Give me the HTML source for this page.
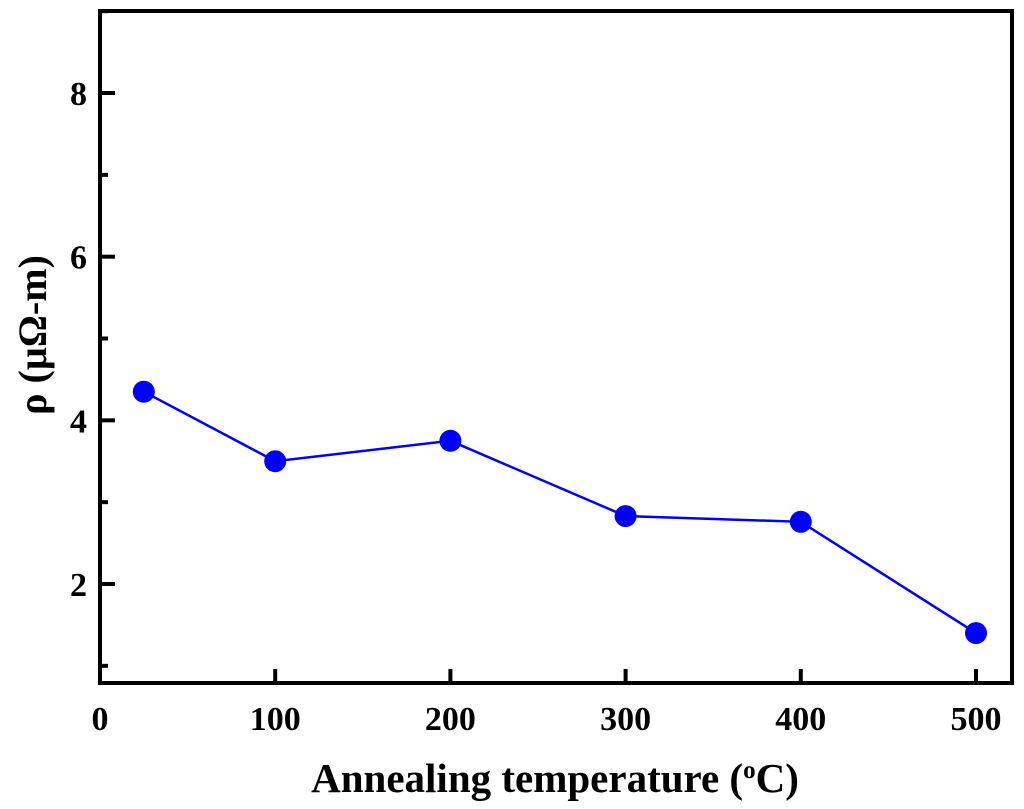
<!DOCTYPE html>
<html><head><meta charset="utf-8"><style>
html,body{margin:0;padding:0;background:#fff;}
svg{display:block;}
text{font-family:"Liberation Serif",serif;font-weight:bold;fill:#000;}
</style></head><body>
<svg width="1024" height="809" xmlns="http://www.w3.org/2000/svg">
<g id="plot"></g>
</svg>
<script>
const temps=[25,100,200,300,400,500];
const rho=[4.35,3.50,3.75,2.83,2.76,1.40];
const xTicks=[0,100,200,300,400,500];
const yTicks=[2,4,6,8];
const yMinor=[1,3,5,7,9];

const L=100,R=1012,T=11,B=683;
const X=v=>100+v*1.752;
const Y=v=>584-(v-2)*81.83;
const ns="http://www.w3.org/2000/svg";
const g=document.getElementById('plot');
function mk(tag,attrs){const e=document.createElementNS(ns,tag);for(const k in attrs)e.setAttribute(k,attrs[k]);g.appendChild(e);return e;}

const frame=mk('rect',{x:L,y:T,width:R-L,height:B-T,fill:'none',stroke:'#000','stroke-width':4});



xTicks.forEach(v=>{
  const t=mk('line',{x1:X(v),x2:X(v),y1:B,y2:B-14,stroke:'#000','stroke-width':4});
  
  
  const l=mk('text',{x:X(v),y:730,'text-anchor':'middle','font-size':34});
  l.textContent=v;
  
  
});
yTicks.forEach(v=>{
  const t=mk('line',{x1:L,x2:L+15,y1:Y(v),y2:Y(v),stroke:'#000','stroke-width':4});
  
  
  const l=mk('text',{x:87,y:Y(v)+12,'text-anchor':'end','font-size':34});
  l.textContent=v;
  
  
});
yMinor.forEach(v=>{
  const t=mk('line',{x1:L,x2:L+8,y1:Y(v),y2:Y(v),stroke:'#000','stroke-width':4});
  
  
});

const pts=temps.map((t,i)=>X(t)+','+Y(rho[i])).join(' ');
const line=mk('polyline',{points:pts,fill:'none',stroke:'#0000ff','stroke-width':2.5});


temps.forEach((t,i)=>{
  const c=mk('circle',{cx:X(t),cy:Y(rho[i]),r:11,fill:'#0000ff'});
  
  
});

const xt=mk('text',{x:555,y:792,'text-anchor':'middle','font-size':41});
xt.innerHTML='Annealing temperature (<tspan dy="-14" font-size="25">o</tspan><tspan dy="14">C)</tspan>';



const yt=mk('text',{x:0,y:0,'text-anchor':'middle','font-size':40,transform:'translate(46,335) rotate(-90)'});
yt.textContent='ρ (µΩ-m)';


</script>
</body></html>
